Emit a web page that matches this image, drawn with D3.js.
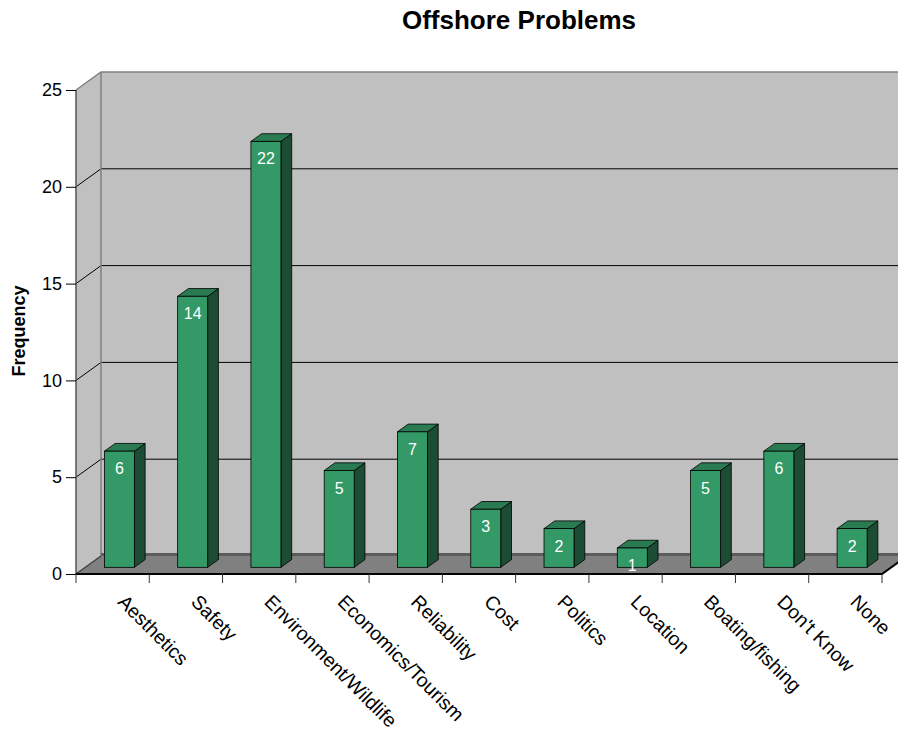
<!DOCTYPE html>
<html>
<head>
<meta charset="utf-8">
<script src="https://cdn.jsdelivr.net/npm/d3@7"></script>
<style>
  html, body { margin: 0; padding: 0; background: #fff; }
  svg { display: block; font-family: Arial, "Liberation Sans", Helvetica, sans-serif; }
</style>
</head>
<body>
<svg id="chart" width="898" height="736"></svg>
<script>
// Survey answers: problems people see with offshore installations
const categories = ["Aesthetics", "Safety", "Environment/Wildlife", "Economics/Tourism",
  "Reliability", "Cost", "Politics", "Location", "Boating/fishing", "Don't Know", "None"];
const frequency = [6, 14, 22, 5, 7, 3, 2, 1, 5, 6, 2];
const yTicks = [0, 5, 10, 15, 20, 25];

const W = 898, H = 736;
const svg = d3.select("#chart");

// Front plane of the 3D box and the depth offset to the back wall
const frontLeft = 76, frontRight = 882, frontZero = 574, frontTop = 90;
const depthX = 25, depthY = -18;

const x = d3.scaleBand().domain(categories).range([frontLeft, frontRight]).paddingInner(0).paddingOuter(0);
const y = d3.scaleLinear().domain([0, 25]).range([frontZero, frontTop]);

// Point projected at depth fraction t (0 = front, 1 = back wall)
const proj = (px, py, t) => [px + depthX * t, py + depthY * t];

const wallFill = "#c0c0c0", wallEdge = "#808080";
const backLeft = frontLeft + depthX, backRight = frontRight + depthX;
const backTop = y(25) + depthY, backZero = y(0) + depthY;

// Back wall
svg.append("rect")
  .attr("x", backLeft).attr("y", backTop)
  .attr("width", backRight - backLeft).attr("height", backZero - backTop)
  .attr("fill", wallFill);

// Left side wall
svg.append("path")
  .attr("d", d3.line()([[frontLeft, y(25)], [backLeft, backTop], [backLeft, backZero], [frontLeft, y(0)]]) + "Z")
  .attr("fill", wallFill);

// Gridlines across the back wall and down the side wall
const grid = svg.append("g");
yTicks.filter(v => v > 0 && v < 25).forEach(v => {
  grid.append("line")
    .attr("x1", backLeft).attr("x2", backRight)
    .attr("y1", y(v) + depthY).attr("y2", y(v) + depthY)
    .attr("stroke", "#000").attr("stroke-width", 1);
  grid.append("line")
    .attr("x1", frontLeft).attr("y1", y(v))
    .attr("x2", backLeft).attr("y2", y(v) + depthY)
    .attr("stroke", "#000").attr("stroke-width", 1);
});

// Wall edges
svg.append("path")
  .attr("d", d3.line()([[frontLeft, y(25)], [backLeft, backTop], [backRight, backTop]]))
  .attr("fill", "none").attr("stroke", wallEdge).attr("stroke-width", 1.5);
svg.append("line")
  .attr("x1", backLeft).attr("x2", backLeft).attr("y1", backTop).attr("y2", backZero)
  .attr("stroke", wallEdge).attr("stroke-width", 1.5);
svg.append("line")
  .attr("x1", frontLeft).attr("x2", frontLeft).attr("y1", y(25)).attr("y2", y(0))
  .attr("stroke", "#555").attr("stroke-width", 1.5);

// Floor
svg.append("path")
  .attr("d", d3.line()([[frontLeft, y(0)], [backLeft, backZero], [backRight, backZero], [frontRight, y(0)]]) + "Z")
  .attr("fill", "#808080");
svg.append("line")
  .attr("x1", backLeft).attr("x2", backRight).attr("y1", backZero - 1.5).attr("y2", backZero - 1.5)
  .attr("stroke", "#5c5c5c").attr("stroke-width", 3);
svg.append("line")
  .attr("x1", frontLeft).attr("y1", y(0)).attr("x2", backLeft).attr("y2", backZero)
  .attr("stroke", "#404040").attr("stroke-width", 1.5);
svg.append("path")
  .attr("d", d3.line()([[frontLeft, y(0)], [frontRight, y(0)], [backRight, backZero]]))
  .attr("fill", "none").attr("stroke", "#000").attr("stroke-width", 2);

// Bars as 3D boxes standing on the floor
const barW = 30, tFront = 0.37, tBack = 0.8;
const bars = svg.append("g").selectAll("g").data(categories.map((c, i) => ({ c, v: frequency[i] })))
  .join("g");

bars.each(function(d) {
  const g = d3.select(this);
  const cx = x(d.c) + x.bandwidth() / 2 - 2.5;
  const [fx0, fy0] = proj(cx - barW / 2, y(0), tFront);
  const [, fyTop] = proj(cx, y(d.v), tFront);
  const fx1 = fx0 + barW;
  const ddx = depthX * (tBack - tFront), ddy = depthY * (tBack - tFront);

  // side face
  g.append("path")
    .attr("d", d3.line()([[fx1, fyTop], [fx1 + ddx, fyTop + ddy], [fx1 + ddx, fy0 + ddy], [fx1, fy0]]) + "Z")
    .attr("fill", "#1c4c33").attr("stroke", "#000").attr("stroke-width", 0.8);
  // top face
  g.append("path")
    .attr("d", d3.line()([[fx0, fyTop], [fx0 + ddx, fyTop + ddy], [fx1 + ddx, fyTop + ddy], [fx1, fyTop]]) + "Z")
    .attr("fill", "#2a7a52").attr("stroke", "#000").attr("stroke-width", 0.8);
  // front face
  g.append("rect")
    .attr("x", fx0).attr("y", fyTop).attr("width", barW).attr("height", fy0 - fyTop)
    .attr("fill", "#339966").attr("stroke", "#000").attr("stroke-width", 0.8);
  // value label
  g.append("text")
    .attr("x", fx0 + barW / 2).attr("y", fyTop + 23)
    .attr("text-anchor", "middle").attr("font-size", 16).attr("fill", "#fff")
    .text(d.v);
});

// Y axis ticks and labels on the front edge
const yAxis = d3.axisLeft(y).tickValues(yTicks).tickSize(10).tickPadding(4).tickFormat(d3.format("d"));
const yg = svg.append("g").attr("transform", `translate(${frontLeft},0)`).call(yAxis);
yg.select(".domain").remove();
yg.selectAll(".tick line").attr("stroke", "#000");
yg.selectAll(".tick text").attr("font-size", 18).attr("fill", "#000")
  .attr("font-family", "Arial, 'Liberation Sans', sans-serif");

// X axis ticks at category boundaries
const bounds = categories.map(c => x(c)).concat([x(categories[categories.length - 1]) + x.bandwidth()]);
svg.append("g").selectAll("line").data(bounds).join("line")
  .attr("x1", d => d).attr("x2", d => d)
  .attr("y1", y(0)).attr("y2", y(0) + 9)
  .attr("stroke", "#333").attr("stroke-width", 1);

// Rotated category labels
svg.append("g").selectAll("text").data(categories).join("text")
  .attr("transform", d => `translate(${x(d) + x.bandwidth() / 2 + 4},${y(0) + 29}) rotate(45)`)
  .attr("text-anchor", "start").attr("font-size", 19.5).attr("fill", "#000")
  .text(d => d);

// Axis title
svg.append("text")
  .attr("transform", `translate(25,331) rotate(-90)`)
  .attr("text-anchor", "middle").attr("font-size", 18).attr("font-weight", "bold")
  .text("Frequency");

// Chart title
svg.append("text")
  .attr("x", 519).attr("y", 29)
  .attr("text-anchor", "middle").attr("font-size", 26).attr("font-weight", "bold")
  .text("Offshore Problems");
</script>
</body>
</html>
